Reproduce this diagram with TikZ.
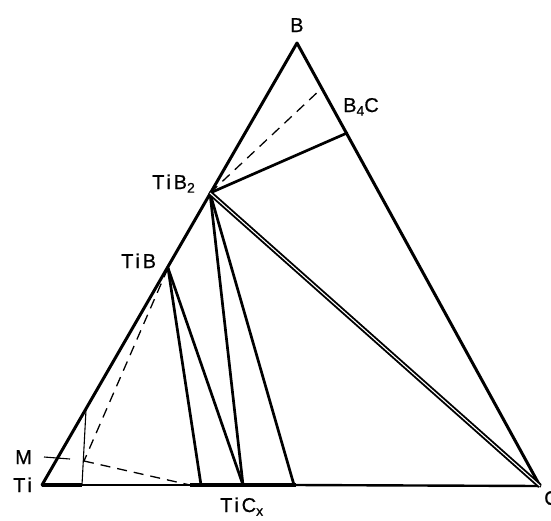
\documentclass[tikz,border=0pt]{standalone}
\usepackage{fontspec}
\setmainfont[LetterSpace=14,FakeBold=0.6]{Liberation Sans}
\newcommand{\sbs}[1]{\raisebox{-0.35ex}{\fontsize{14}{14}\selectfont #1}}
\begin{document}
\begin{tikzpicture}[x=1pt,y=-1pt,
  edge/.style={line width=3pt,line cap=round,line join=round},
  tie/.style={line width=2.7pt,line cap=round},
  thinline/.style={line width=1.1pt},
  dashline/.style={line width=1.3pt,dash pattern=on 10pt off 7pt},
  lbl/.style={inner sep=0pt,anchor=base west,font=\fontsize{20}{22}\selectfont}]
\useasboundingbox (0,0) rectangle (551,520);
% vertices and points
\coordinate (Ti) at (42,485);
\coordinate (B) at (297,43);
\coordinate (C) at (540,486);
\coordinate (TiB2) at (210,193);
\coordinate (TiB) at (168,268);
\coordinate (B4C) at (347,133);
\coordinate (B4Cd) at (322,88);
\coordinate (p1) at (201,485);
\coordinate (p2) at (243,485);
\coordinate (p3) at (294,485);
\coordinate (Mp) at (84,461);
\coordinate (vt) at (86,410);
\coordinate (vb) at (82,485);
\coordinate (ml) at (44,457);
\coordinate (me) at (70,459);
\coordinate (d1) at (190,485);
\coordinate (d2) at (296,485);
% bottom edge with varying thickness
\draw[line width=3.6pt] (Ti) -- (vb);
\draw[line width=2.4pt] (vb) -- (d1);
\draw[line width=4.4pt] (d1) -- (d2);
\draw[line width=2.4pt] (d2) -- (C);
% triangle sides
\draw[edge] (Ti) -- (B) -- (C);
% tie lines
\draw[tie] (TiB2) -- (B4C);
\draw[dashline] (TiB2) -- (B4Cd);
\draw[tie] (TiB) -- (p1);
\draw[tie] (TiB) -- (p2);
\draw[tie] (TiB2) -- (p2);
\draw[tie] (TiB2) -- (p3);
\draw[double,line width=1.9pt,double distance=1.1pt] (TiB2) -- (C);
% M region
\draw[dashline] (TiB) -- (Mp);
\draw[dashline] (Mp) -- (d1);
\draw[thinline] (vt) -- (vb);
\draw[thinline] (ml) -- (me);
% labels
\node[lbl] (lB) at (290,32) {B};
\node[lbl] (lB4C) at (343,112) {B\sbs{4}C};
\node[lbl] (lTiB2) at (152,189) {TiB\sbs{2}};
\node[lbl] (lTiB) at (121,268) {TiB};
\node[lbl] (lM) at (15,464) {M};
\node[lbl] (lTi) at (13,492) {Ti};
\node[lbl] (lC) at (544,505) {C};
\node[lbl] (lTiC) at (220,512) {TiC\sbs{x}};
\end{tikzpicture}
\end{document}
